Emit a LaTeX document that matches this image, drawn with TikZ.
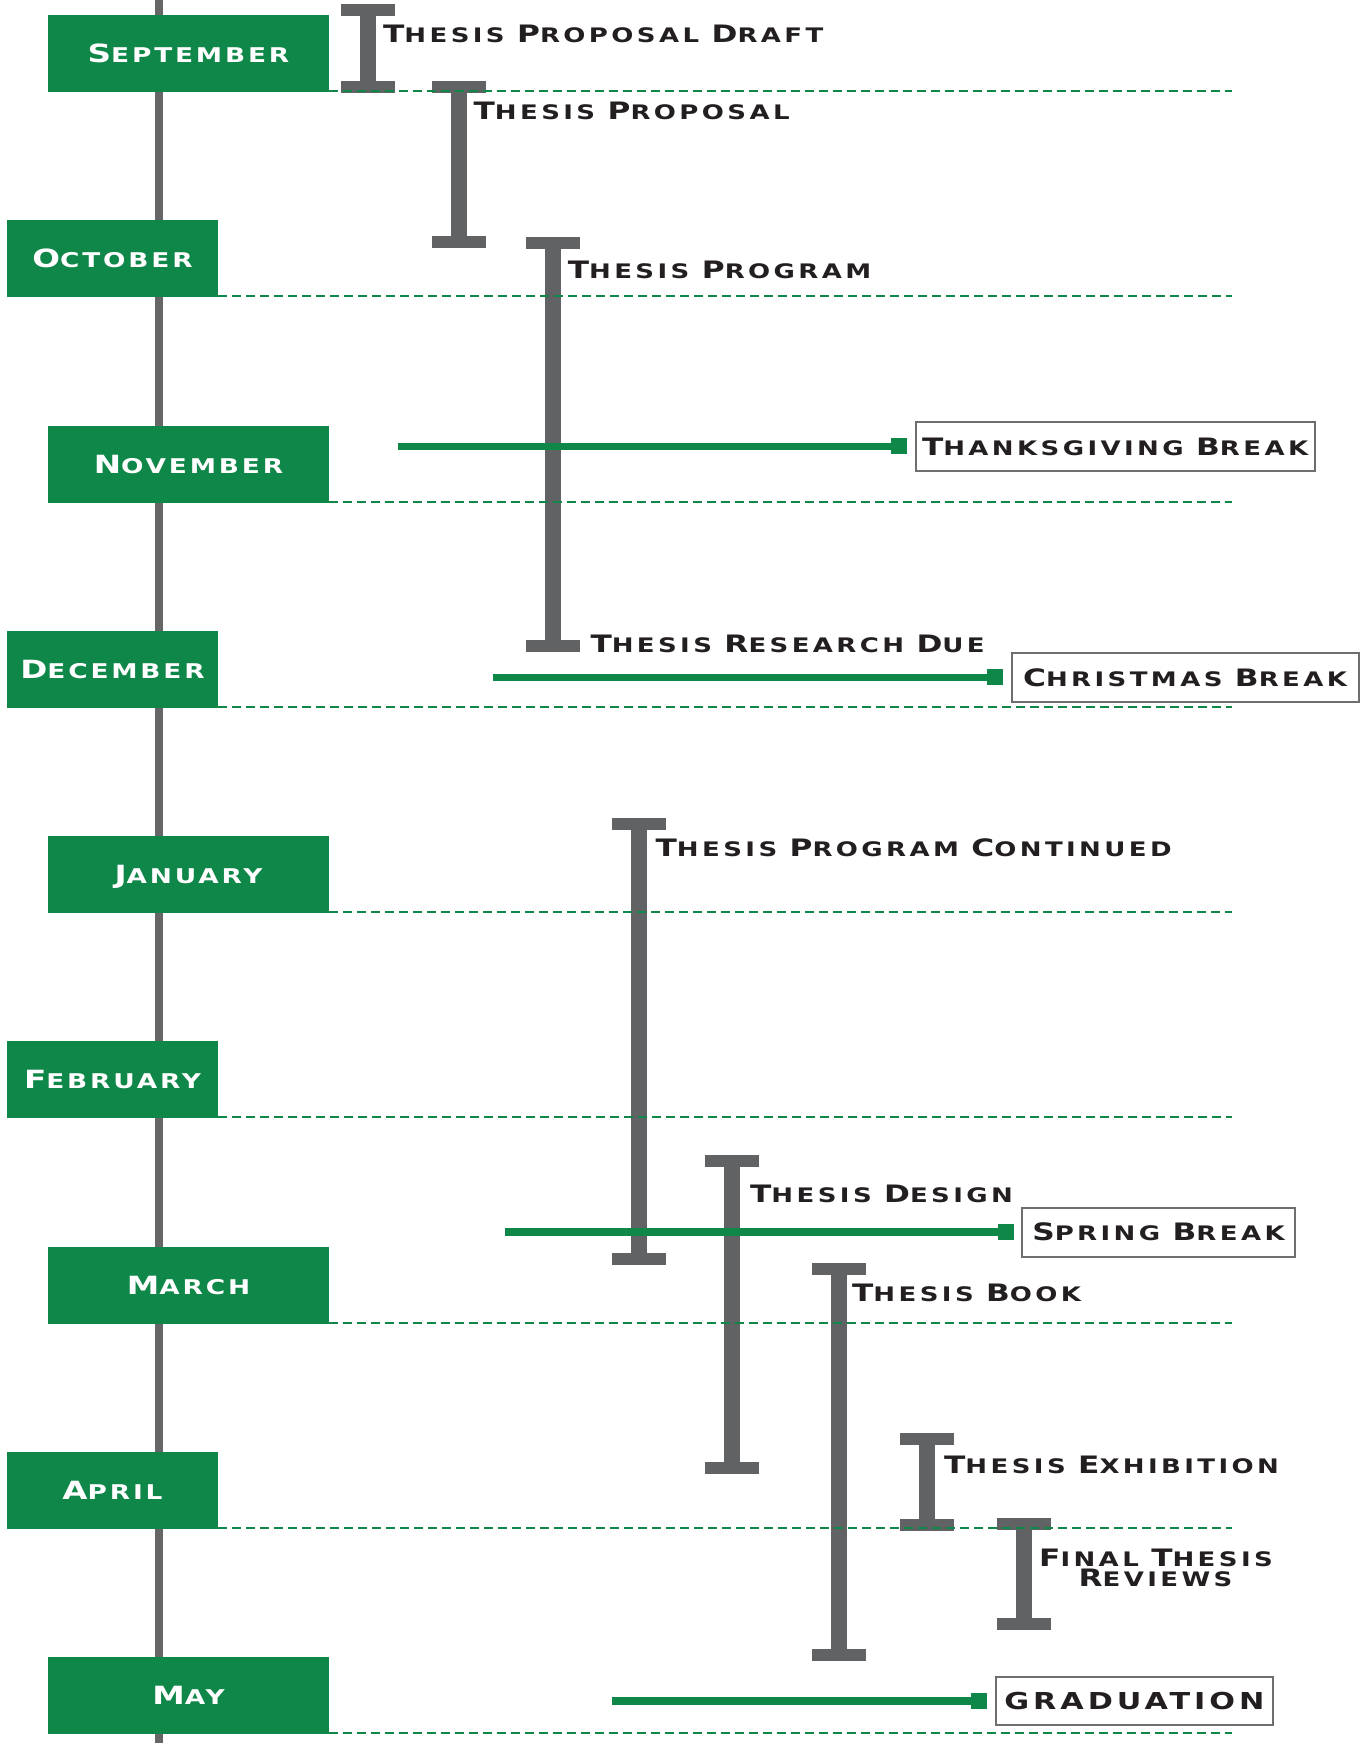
\documentclass[tikz,border=0pt]{standalone}
\usepackage{fontspec}
\newfontfamily\tlf{DejaVu Sans}[FakeStretch=1.3,LetterSpace=17]
\newfontfamily\tlm{DejaVu Sans}[FakeStretch=1.3,LetterSpace=14]
\usetikzlibrary{calc}
\definecolor{tlgreen}{HTML}{0E8748}
\definecolor{tlgray}{HTML}{616264}
\definecolor{tlline}{HTML}{666666}
\definecolor{tlblack}{HTML}{231F20}
\definecolor{tlborder}{HTML}{6D6E70}
\newcommand\tlMonA{\fontsize{25.1bp}{26bp}\selectfont}
\newcommand\tlMonB{\fontsize{20.3bp}{26bp}\selectfont}
\newcommand\tlLabA{\fontsize{24bp}{24bp}\selectfont}
\newcommand\tlLabB{\fontsize{20bp}{24bp}\selectfont}
\newcommand\msc[2]{{\tlMonA #1}{\tlMonB #2}}
\newcommand\lsc[2]{{\tlLabA #1}{\tlLabB #2}}
\newcommand\tlbeam[3]{%
  \fill[tlgray] (#1-27,#2) rectangle (#1+27,#2+12);
  \fill[tlgray] (#1-8,#2) rectangle (#1+8,#3);
  \fill[tlgray] (#1-27,#3-12) rectangle (#1+27,#3);}
\begin{document}
\begin{tikzpicture}[x=1bp,y=-1bp,
  month/.style={fill=tlgreen, inner sep=0pt, minimum height=77bp, text=white, font=\tlm\bfseries\tlMonB, text height=18.3bp, text depth=0bp},
  wide/.style={month, minimum width=281bp},
  narrow/.style={month, minimum width=211bp},
  dashline/.style={draw=tlgreen, line width=2bp, dash pattern=on 9bp off 5bp},
  lbl/.style={anchor=base west, inner sep=0pt, text=tlblack, font=\tlf\bfseries\tlLabB},
  brk/.style={draw=tlborder, line width=2bp, fill=white, inner sep=0pt, minimum height=48.7bp, text=tlblack, font=\tlf\bfseries\tlLabB, text height=17.5bp, text depth=0bp},
  gsq/.style={fill=tlgreen, inner sep=0pt, minimum width=16bp, minimum height=16bp},
  gbar/.style={draw=tlgreen, line width=7.5bp}]
\fill[white] (0,0) rectangle (1364,1743);
\useasboundingbox (0,0) rectangle (1364,1743);
% timeline
\coordinate (ttop) at (159,0);
\coordinate (tbot) at (159,1743);
\draw[tlline, line width=8bp] (ttop) -- (tbot);
% range bars
\tlbeam{368}{4.3}{92.7}
\tlbeam{458.8}{81}{248.3}
\tlbeam{553}{237.3}{651.7}
\tlbeam{639}{817.5}{1265}
\tlbeam{731.8}{1155}{1474}
\tlbeam{839}{1263}{1661}
\tlbeam{927}{1432.5}{1531}
\tlbeam{1023.5}{1518}{1630}
% months
\node[wide] (m0) at (188.5,53.5) {\msc{S}{EPTEMBER}};
\node[narrow] (m1) at (112.5,258.75) {\msc{O}{CTOBER}};
\node[wide] (m2) at (188.5,464) {\msc{N}{OVEMBER}};
\node[narrow] (m3) at (112.5,669.25) {\msc{D}{ECEMBER}};
\node[wide] (m4) at (188.5,874.5) {\msc{J}{ANUARY}};
\node[narrow] (m5) at (112.5,1079.75) {\msc{F}{EBRUARY}};
\node[wide] (m6) at (188.5,1285) {\msc{M}{ARCH}};
\node[narrow] (m7) at (112.5,1490.25) {\msc{A}{PRIL}};
\node[wide] (m8) at (188.5,1695.5) {\msc{M}{AY}};
% dashed month lines
\coordinate (dend) at (1232,0);
\foreach \i in {0,...,8}
  \draw[dashline] ([yshift=1bp]m\i.south east) -- ([yshift=1bp]m\i.south east -| dend);
% breaks
\node[brk, minimum width=399.2bp] (b1) at (1115.1,446.35) {\lsc{T}{HANKSGIVING} \lsc{B}{REAK}};
\node[gsq, anchor=east] (q1) at ($(b1.west)+(-7,0)$) {};
\coordinate (s1) at (398,446.35);
\draw[gbar] (s1) -- (q1.center);
\node[brk, minimum width=347.2bp] (b2) at (1185.1,677.35) {\lsc{C}{HRISTMAS} \lsc{B}{REAK}};
\node[gsq, anchor=east] (q2) at ($(b2.west)+(-7,0)$) {};
\coordinate (s2) at (493,677.35);
\draw[gbar] (s2) -- (q2.center);
\node[brk, minimum width=273bp] (b3) at (1158.5,1232.15) {\lsc{S}{PRING} \lsc{B}{REAK}};
\node[gsq, anchor=east] (q3) at ($(b3.west)+(-7,0)$) {};
\coordinate (s3) at (504.8,1232.15);
\draw[gbar] (s3) -- (q3.center);
\node[brk, minimum width=277.9bp, text height=17bp, font=\tlf\bfseries\fontsize{23.3bp}{24bp}\selectfont] (b4) at (1134.45,1701) {GRADUATION};
\node[gsq, anchor=east] (q4) at ($(b4.west)+(-7,0)$) {};
\coordinate (s4) at (612,1701);
\draw[gbar] (s4) -- (q4.center);
% labels
\node[lbl] (l1) at (383,42.7) {\lsc{T}{HESIS} \lsc{P}{ROPOSAL} \lsc{D}{RAFT}};
\node[lbl] (l2) at (473.5,119.3) {\lsc{T}{HESIS} \lsc{P}{ROPOSAL}};
\node[lbl] (l3) at (567.7,278.3) {\lsc{T}{HESIS} \lsc{P}{ROGRAM}};
\node[lbl] (l4) at (590.3,652.3) {\lsc{T}{HESIS} \lsc{R}{ESEARCH} \lsc{D}{UE}};
\node[lbl] (l5) at (655.5,856) {\lsc{T}{HESIS} \lsc{P}{ROGRAM} \lsc{C}{ONTINUED}};
\node[lbl] (l6) at (750,1202) {\lsc{T}{HESIS} \lsc{D}{ESIGN}};
\node[lbl] (l7) at (852,1301) {\lsc{T}{HESIS} \lsc{B}{OOK}};
\node[lbl] (l8) at (944,1473) {\lsc{T}{HESIS} \lsc{E}{XHIBITION}};
\node[lbl, anchor=base] (l9a) at (1156,1566) {\lsc{F}{INAL} \lsc{T}{HESIS}};
\node[lbl, anchor=base] (l9b) at (1155.5,1586) {\lsc{R}{EVIEWS}};
\end{tikzpicture}
\end{document}
